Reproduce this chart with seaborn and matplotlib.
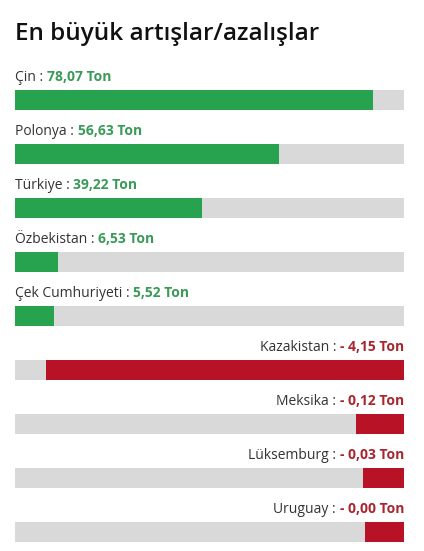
import matplotlib
matplotlib.use('Agg')
import matplotlib.pyplot as plt
import matplotlib.transforms as mtransforms
import seaborn as sns
import pandas as pd

# data
countries = ['Çin', 'Polonya', 'Türkiye', 'Özbekistan', 'Çek Cumhuriyeti',
             'Kazakistan', 'Meksika', 'Lüksemburg', 'Uruguay']
changes = [78.07, 56.63, 39.22, 6.53, 5.52, -4.15, -0.12, -0.03, -0.00]
value_labels = ['78,07 Ton', '56,63 Ton', '39,22 Ton', '6,53 Ton', '5,52 Ton',
                '- 4,15 Ton', '- 0,12 Ton', '- 0,03 Ton', '- 0,00 Ton']
increase = [True, True, True, True, True, False, False, False, False]

GREEN = '#27a24f'
GREEN_TXT = '#3a9a57'
RED = '#b81226'
RED_TXT = '#a8262f'
GREY = '#d9d9d9'

sns.set_theme(style='white')
plt.rcParams['font.family'] = ['Open Sans', 'DejaVu Sans']

df = pd.DataFrame({'country': countries, 'change': changes, 'up': increase})
df['size'] = df['change'].abs()


# each group (increases / decreases) is scaled from its own min to its own max
def scale(group):
    lo, hi = group.min(), group.max()
    return 10 + (group - lo) / (hi - lo) * 82


df['length'] = df.groupby('up')['size'].transform(scale)
df['track'] = 100.0
# decreases grow from the right: red full track, grey covers the left part
df['under'] = df['track'].where(df['up'], 100.0)
df['under_col'] = df['up'].map({True: 'grey', False: 'red'})
df['over'] = df['length'].where(df['up'], 100 - df['length'])
df['over_col'] = df['up'].map({True: 'green', False: 'grey'})
pal = {'grey': GREY, 'green': GREEN, 'red': RED}

fig = plt.figure(figsize=(4.24, 5.51), dpi=100)
W, H = 424, 551
top_px, row_px = 100 - 27, 54
ax = fig.add_axes([15 / W, 1 - (top_px + 9 * row_px) / H, 389 / W, 9 * row_px / H])

sns.barplot(data=df, y='country', x='under', hue='under_col', palette=pal,
            orient='h', width=0.37, dodge=False, legend=False, ax=ax,
            saturation=1, linewidth=0)
sns.barplot(data=df, y='country', x='over', hue='over_col', palette=pal,
            orient='h', width=0.37, dodge=False, legend=False, ax=ax,
            saturation=1, linewidth=0)

ax.set_xlim(0, 100)
ax.set_ylim(8.5, -0.5)
ax.axis('off')

renderer = fig.canvas.get_renderer()
fs = 10
for i, row in df.iterrows():
    y = i - 0.35
    if row['up']:
        t = ax.text(0, y, row['country'] + ' : ', ha='left', va='baseline',
                    fontsize=fs, color='#333333')
        w = t.get_window_extent(renderer).width
        tr = mtransforms.offset_copy(ax.transData, fig, x=w, y=0, units='dots')
        ax.text(0, y, value_labels[i], ha='left', va='baseline', transform=tr,
                fontsize=fs, fontweight='bold', color=GREEN_TXT)
    else:
        t = ax.text(100, y, value_labels[i], ha='right', va='baseline',
                    fontsize=fs, fontweight='bold', color=RED_TXT)
        w = t.get_window_extent(renderer).width
        tr = mtransforms.offset_copy(ax.transData, fig, x=-w, y=0, units='dots')
        ax.text(100, y, row['country'] + ' : ', ha='right', va='baseline',
                transform=tr, fontsize=fs, color='#333333')

fig.text(15 / W, 1 - 40 / H, 'En büyük artışlar/azalışlar', ha='left', va='baseline',
         fontsize=17.5, fontweight='semibold', color='#111111')

fig.savefig('out.png', dpi=100)
